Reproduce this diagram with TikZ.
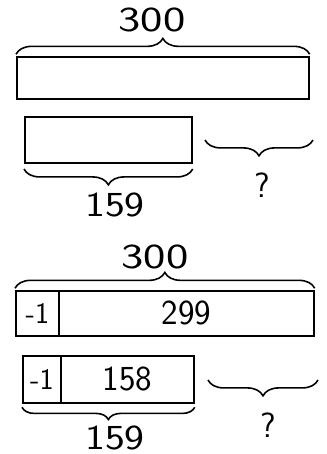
\documentclass[tikz,border=0pt]{standalone}
\usetikzlibrary{decorations.pathreplacing}

\begin{document}
\begin{tikzpicture}[
  x=0.02cm, y=-0.02cm,
  bar/.style={draw, line width=1pt, inner sep=0pt, anchor=north west, font=\sffamily\fontsize{20}{24}\selectfont},
  brc/.style={draw, line width=0.9pt, decorate, decoration={brace, amplitude=#1}},
  brc/.default=8pt,
  num/.style={font=\sffamily\fontsize{20}{24}\selectfont, inner sep=0pt},
  small/.style={font=\sffamily\fontsize{17}{20}\selectfont}
]
  \useasboundingbox (0,0) rectangle (326,454);

  % first model
  \node[bar, minimum width=5.84cm, minimum height=0.84cm] (whole) at (16,56) {};
  \node[bar, minimum width=3.34cm, minimum height=0.92cm] (part) at (24,116) {};
  \draw[brc=9pt] ([yshift=1pt]whole.north west) -- ([yshift=1pt]whole.north east);
  \node[num, xscale=1.35] (totalA) at (152,20) {300};
  \draw[brc=9pt] ([yshift=-3pt]part.south east) -- ([yshift=-3pt]part.south west);
  \node[num, xscale=1.2] (knownA) at (115,205) {159};
  \coordinate (qAleft) at (205,140);
  \coordinate (qAright) at (313,140);
  \draw[brc=9pt] (qAright) -- (qAleft);
  \node[num] (unknownA) at (262,185) {?};

  % second model
  \node[bar, small, minimum width=0.86cm, minimum height=0.9cm] (minusB) at (15,290) {-1};
  \node[bar, minimum width=5.1cm, minimum height=0.9cm] (restB) at (58,290) {299};
  \node[bar, small, minimum width=0.76cm, minimum height=0.94cm] (minusC) at (22,355) {-1};
  \node[bar, minimum width=2.66cm, minimum height=0.94cm] (restC) at (60,355) {158};
  \draw[brc=9pt] ([yshift=1pt]minusB.north west) -- ([yshift=1pt]restB.north east);
  \node[num, xscale=1.35] (totalB) at (155,257) {300};
  \draw[brc=7pt] ([yshift=-2pt]restC.south east) -- ([yshift=-2pt]minusC.south west);
  \node[num, xscale=1.2] (knownB) at (115,438) {159};
  \coordinate (qBleft) at (208,380);
  \coordinate (qBright) at (318,380);
  \draw[brc=9pt] (qBright) -- (qBleft);
  \node[num] (unknownB) at (268,425) {?};

\end{tikzpicture}
\end{document}
